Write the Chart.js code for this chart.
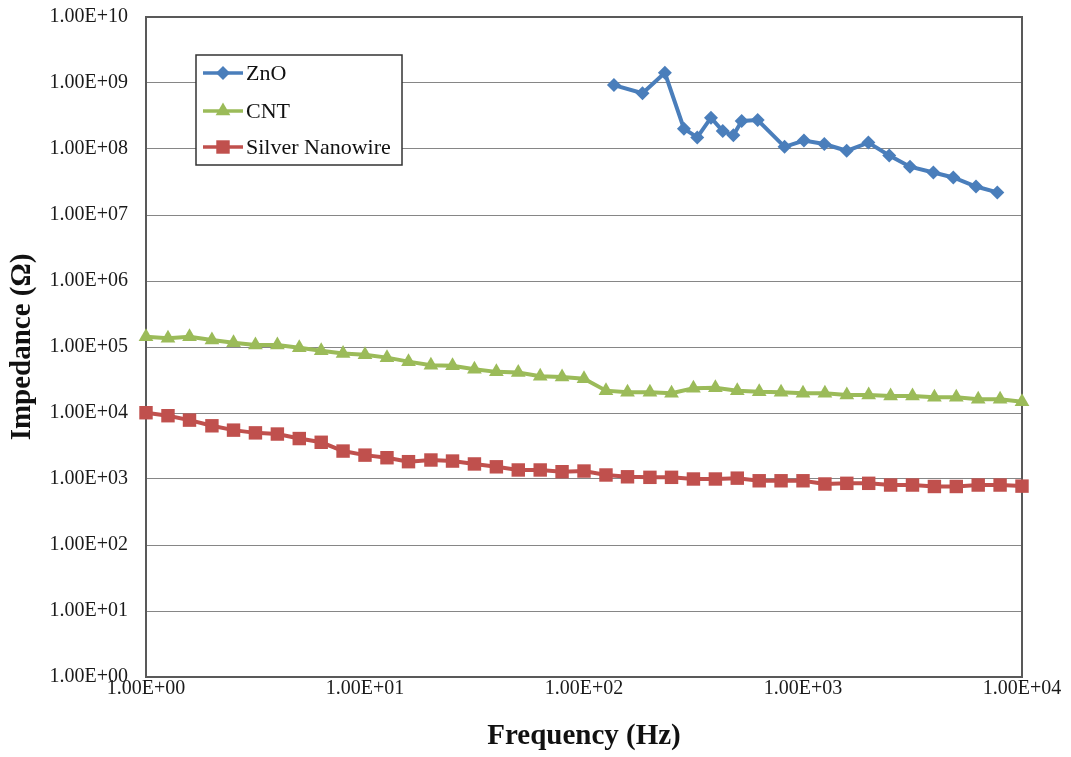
<!DOCTYPE html>
<html>
<head>
<meta charset="utf-8">
<title>Impedance vs Frequency</title>
<script src="https://cdn.jsdelivr.net/npm/chart.js@4.4.0/dist/chart.umd.min.js"></script>
<style>
  html, body { margin: 0; padding: 0; background: #fff; }
  #wrap { width: 1071px; height: 757px; position: relative; }
</style>
</head>
<body>
<div id="wrap"><canvas id="impedanceChart"></canvas></div>
<script>
// frequencies (Hz) shared by CNT and silver nanowire
const freqGrid = [1, 1.26, 1.58, 2, 2.51, 3.16, 3.98, 5.01, 6.31, 7.94,
    10, 12.6, 15.8, 20, 25.1, 31.6, 39.8, 50.1, 63.1, 79.4,
    100, 126, 158, 200, 251, 316, 398, 501, 631, 794,
    1000, 1259, 1585, 1995, 2512, 3162, 3981, 5012, 6310, 7943, 10000];

const cntImpedance = [1.43e5, 1.36e5, 1.43e5, 1.28e5, 1.16e5, 1.07e5, 1.07e5, 9.75e4, 8.8e4, 8.0e4,
    7.6e4, 6.9e4, 6.0e4, 5.3e4, 5.2e4, 4.6e4, 4.2e4, 4.1e4, 3.6e4, 3.5e4,
    3.3e4, 2.18e4, 2.06e4, 2.06e4, 1.99e4, 2.37e4, 2.42e4, 2.18e4, 2.1e4, 2.06e4,
    1.99e4, 1.99e4, 1.87e4, 1.87e4, 1.81e4, 1.81e4, 1.73e4, 1.73e4, 1.61e4, 1.61e4, 1.48e4];

const silverImpedance = [1.01e4, 9.1e3, 7.8e3, 6.4e3, 5.5e3, 5.0e3, 4.8e3, 4.1e3, 3.6e3, 2.65e3,
    2.3e3, 2.1e3, 1.83e3, 1.94e3, 1.87e3, 1.69e3, 1.53e3, 1.37e3, 1.37e3, 1.29e3,
    1.32e3, 1.15e3, 1.08e3, 1.06e3, 1.06e3, 1.0e3, 1.0e3, 1.03e3, 940, 940,
    940, 840, 860, 860, 810, 810, 770, 770, 810, 810, 780];

// ZnO was measured on its own frequency points
const znoFreq = [137, 185, 234, 286, 329, 380, 430, 481, 525, 621,
    824, 1010, 1251, 1583, 1988, 2477, 3080, 3939, 4856, 6166, 7715];
const znoImpedance = [9.3e8, 7.0e8, 1.43e9, 2.03e8, 1.5e8, 2.98e8, 1.87e8, 1.61e8, 2.66e8, 2.75e8,
    1.08e8, 1.34e8, 1.19e8, 9.4e7, 1.25e8, 8.0e7, 5.4e7, 4.4e7, 3.7e7, 2.7e7, 2.2e7];

const seriesNames = ['ZnO', 'CNT', 'Silver Nanowire'];
const seriesColors = ['#4a7ebb', '#9bbb59', '#c0504d'];

const xTicks = [1, 10, 100, 1000, 10000];
const yTicks = [1, 10, 100, 1e3, 1e4, 1e5, 1e6, 1e7, 1e8, 1e9, 1e10];

const serif = "'Liberation Serif', 'Times New Roman', serif";

function pairs(xs, ys) {
    return xs.map((x, i) => ({ x: x, y: ys[i] }));
}

function sci(v) {
    const e = Math.round(Math.log10(v));
    return '1.00E+' + String(e).padStart(2, '0');
}

// frame around the plot area
const frame = {
    id: 'frame',
    beforeDatasetsDraw(chart) {
        const { ctx, chartArea: a } = chart;
        ctx.save();
        ctx.strokeStyle = '#595959';
        ctx.lineWidth = 2;
        ctx.strokeRect(a.left, a.top, a.right - a.left, a.bottom - a.top);
        ctx.restore();
    }
};

function marker(ctx, style, x, y, r) {
    ctx.beginPath();
    if (style === 'rectRot') {
        ctx.moveTo(x - r, y); ctx.lineTo(x, y - r); ctx.lineTo(x + r, y); ctx.lineTo(x, y + r);
    } else if (style === 'triangle') {
        ctx.moveTo(x, y - r);
        ctx.lineTo(x + r * 0.866, y + r / 2);
        ctx.lineTo(x - r * 0.866, y + r / 2);
    } else {
        const s = r * Math.SQRT1_2;
        ctx.rect(x - s, y - s, 2 * s, 2 * s);
    }
    ctx.closePath();
    ctx.fill();
}

// boxed legend inside the plot, like the spreadsheet one
const boxLegend = {
    id: 'boxLegend',
    afterDatasetsDraw(chart) {
        const ctx = chart.ctx;
        ctx.save();
        ctx.fillStyle = '#fff';
        ctx.fillRect(196, 55, 206, 110);
        ctx.strokeStyle = '#333';
        ctx.lineWidth = 1.5;
        ctx.strokeRect(196, 55, 206, 110);
        const rows = [73, 111, 147];
        chart.data.datasets.forEach((ds, i) => {
            const y = rows[i];
            ctx.strokeStyle = ds.borderColor;
            ctx.lineWidth = 3.5;
            ctx.beginPath();
            ctx.moveTo(203, y);
            ctx.lineTo(243, y);
            ctx.stroke();
            ctx.fillStyle = ds.pointBackgroundColor;
            marker(ctx, ds.pointStyle, 223, y, ds.pointRadius);
            ctx.fillStyle = '#111';
            ctx.font = '22px ' + serif;
            ctx.textBaseline = 'middle';
            ctx.textAlign = 'left';
            ctx.fillText(ds.label, 246, y + 1);
        });
        ctx.restore();
    }
};

new Chart(document.getElementById('impedanceChart').getContext('2d'), {
    type: 'line',
    data: {
        datasets: [{
            label: seriesNames[0],
            data: pairs(znoFreq, znoImpedance),
            borderColor: seriesColors[0],
            backgroundColor: seriesColors[0],
            pointBackgroundColor: seriesColors[0],
            pointStyle: 'rectRot',
            pointRadius: 7,
        }, {
            label: seriesNames[1],
            data: pairs(freqGrid, cntImpedance),
            borderColor: seriesColors[1],
            backgroundColor: seriesColors[1],
            pointBackgroundColor: seriesColors[1],
            pointStyle: 'triangle',
            pointRadius: 8.5,
        }, {
            label: seriesNames[2],
            data: pairs(freqGrid, silverImpedance),
            borderColor: seriesColors[2],
            backgroundColor: seriesColors[2],
            pointBackgroundColor: seriesColors[2],
            pointStyle: 'rect',
            pointRadius: 9.5,
        }]
    },
    options: {
        responsive: true,
        maintainAspectRatio: false,
        animation: false,
        datasets: {
            line: { borderWidth: 4, tension: 0, pointBorderWidth: 0, clip: false }
        },
        layout: { padding: { left: 0, top: 17, right: 49, bottom: 0 } },
        scales: {
            x: {
                type: 'logarithmic',
                min: 1,
                max: 10000,
                afterBuildTicks: (scale) => { scale.ticks = xTicks.map(v => ({ value: v })); },
                afterFit: (scale) => { scale.height = 80; },
                grid: { display: false, drawTicks: false },
                border: { display: false },
                ticks: {
                    padding: 0,
                    maxRotation: 0,
                    autoSkip: false,
                    color: '#1a1a1a',
                    font: { family: serif, size: 20 },
                    callback: (v) => sci(v)
                },
                title: {
                    display: true,
                    text: 'Frequency (Hz)',
                    color: '#111',
                    font: { family: serif, size: 29, weight: 'bold' },
                    padding: { top: 0, bottom: 3 }
                }
            },
            y: {
                type: 'logarithmic',
                min: 1,
                max: 1e10,
                afterBuildTicks: (scale) => { scale.ticks = yTicks.map(v => ({ value: v })); },
                afterFit: (scale) => {
                    scale.width = 146;
                    // label padding is horizontal only here, don't let it push the plot down
                    scale.paddingTop = 12;
                    scale.paddingBottom = 12;
                },
                grid: { color: '#868686', lineWidth: 1, drawTicks: false },
                border: { display: false },
                ticks: {
                    padding: 18,
                    autoSkip: false,
                    color: '#1a1a1a',
                    font: { family: serif, size: 20 },
                    callback: (v) => sci(v)
                },
                title: {
                    display: true,
                    text: 'Impedance (Ω)',
                    color: '#111',
                    font: { family: serif, size: 29, weight: 'bold' },
                    padding: { top: 5, bottom: 0 }
                }
            }
        },
        plugins: {
            legend: { display: false },
            tooltip: { enabled: false }
        }
    },
    plugins: [frame, boxLegend]
});
</script>
</body>
</html>
